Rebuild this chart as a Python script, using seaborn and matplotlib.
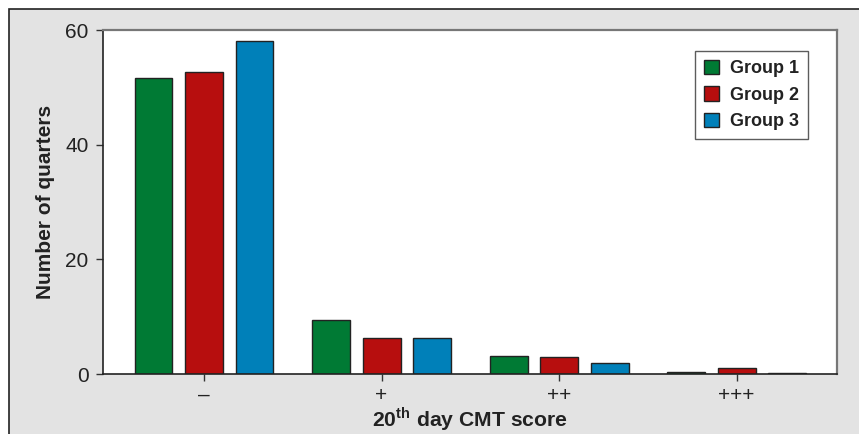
import matplotlib
matplotlib.use("Agg")
import matplotlib.pyplot as plt
import seaborn as sns
import pandas as pd
from matplotlib.patches import Rectangle

categories = ["\u2013", "+", "++", "+++"]
groups = ["Group 1", "Group 2", "Group 3"]
group1 = [51.7, 9.4, 3.1, 0.3]
group2 = [52.7, 6.2, 3.0, 1.0]
group3 = [58.0, 6.2, 1.9, 0.2]
colors = ["#007a34", "#b70e0e", "#0080b9"]

rows = []
for g, vals in zip(groups, [group1, group2, group3]):
    for c, v in zip(categories, vals):
        rows.append({"score": c, "group": g, "count": v})
df = pd.DataFrame(rows)

sns.set_theme(style="white")
plt.rcParams["font.family"] = ["Liberation Sans", "DejaVu Sans"]
plt.rcParams["mathtext.fontset"] = "custom"
plt.rcParams["mathtext.rm"] = "Liberation Sans"
plt.rcParams["mathtext.bf"] = "Liberation Sans:bold"

W, H = 859, 434
fig = plt.figure(figsize=(W / 100, H / 100), dpi=100)
fig.patch.set_facecolor("white")
fig.patches.append(Rectangle((8.5 / W, -0.1), 1.2, (H - 9.5) / H + 0.1,
                             transform=fig.transFigure, facecolor="#e3e3e3",
                             edgecolor="#222222", linewidth=1.2, zorder=-10))

ax = fig.add_axes([103 / W, 60 / H, (837 - 103) / W, (374 - 30) / H])
ax.set_facecolor("white")

sns.barplot(data=df, x="score", y="count", hue="group", order=categories,
            hue_order=groups, palette=colors, width=0.8535, gap=0.248,
            edgecolor="#222222", linewidth=1.0, ax=ax, errorbar=None,
            saturation=1)

ax.set_ylim(0, 60)
ax.set_yticks([0, 20, 40, 60])
ax.set_xlim(-0.569, 3.566)
ax.tick_params(axis="both", direction="out", length=5, width=1, color="#333333",
               labelsize=15, labelcolor="#222222", pad=5.5, left=True, bottom=True)
ax.tick_params(axis="x", pad=3.5)

for s in ["left", "bottom"]:
    ax.spines[s].set_color("#222222")
    ax.spines[s].set_linewidth(1.2)
for s in ["top", "right"]:
    ax.spines[s].set_color("#777777")
    ax.spines[s].set_linewidth(1.6)

ax.set_ylabel("Number of quarters", fontsize=15, fontweight="bold", color="#222222", labelpad=7)
ax.set_xlabel(r"20$^{\mathbf{th}}$ day CMT score", fontsize=15.2, fontweight="bold",
              color="#222222", labelpad=0)

leg = ax.legend(loc="upper right", bbox_to_anchor=(0.9605, 0.939), frameon=True,
                fancybox=False, edgecolor="#333333", borderaxespad=0,
                prop={"weight": "bold", "size": 13}, handlelength=0.85,
                handleheight=0.85, handletextpad=0.6, borderpad=0.5,
                labelspacing=0.5)
leg.get_frame().set_linewidth(1.0)
for t in leg.get_texts():
    t.set_color("#222222")

fig.savefig("out.png", dpi=100, facecolor=fig.get_facecolor())
